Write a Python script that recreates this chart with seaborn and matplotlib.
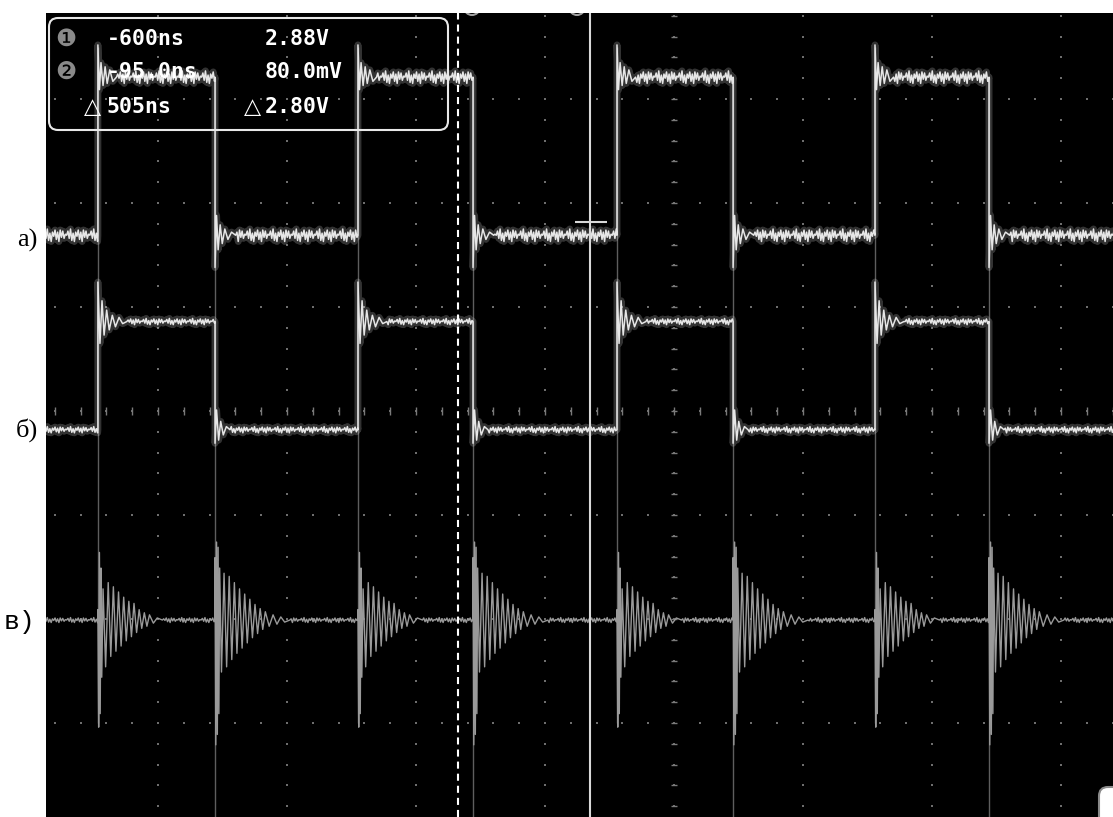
import numpy as np
import seaborn as sns
import matplotlib.pyplot as plt
from matplotlib.patches import FancyBboxPatch, Ellipse
from matplotlib.transforms import Affine2D

#* STEP 1: values (time in ns, amplitude in divisions)

# edge times of the square wave (same for all three traces)
RISE_NS = [-2233, -1225, -221, 779]
FALL_NS = [-1779, -779, 229, 1221]

# levels of the traces
A_LOW, A_HIGH = 1.69, 3.21
B_LOW, B_HIGH = -0.18, 0.86
C_BASE = -2.01

# ringing after each edge: time offset (ns) and deviation from the new level (div)
A_RISE_DT = [0, 6, 12, 20, 28, 36, 46, 58, 72]
A_RISE_DV = [0.31, -0.12, 0.14, -0.08, 0.10, -0.06, 0.07, -0.04, 0.0]
A_FALL_DT = [0, 6, 12, 20, 28, 38, 50, 64, 80]
A_FALL_DV = [-0.31, 0.19, -0.14, 0.10, -0.08, 0.06, -0.04, 0.03, 0.0]

B_RISE_DT = [0, 8, 16, 24, 34, 44, 56, 68, 82, 96, 112]
B_RISE_DV = [0.38, -0.21, 0.20, -0.13, 0.11, -0.08, 0.06, -0.05, 0.04, -0.02, 0.0]
B_FALL_DT = [0, 6, 14, 22, 32, 44, 58]
B_FALL_DV = [-0.13, 0.19, -0.10, 0.08, -0.05, 0.03, 0.0]

C_RISE_DT = [0, 3, 6, 9, 12, 15, 20, 30, 40, 50, 60, 70, 80, 90, 100, 110, 120,
             130, 140, 150, 160, 170, 180, 190, 200, 215, 230, 250]
C_RISE_DV = [0.10, -1.03, 0.65, -0.90, 0.50, -0.55, 0.30, -0.45, 0.36, -0.35, 0.32,
             -0.30, 0.27, -0.25, 0.22, -0.20, 0.18, -0.16, 0.16, -0.12, 0.10, -0.08,
             0.07, -0.06, 0.05, -0.03, 0.02, 0.0]
C_FALL_DT = [0, 3, 6, 9, 12, 15, 18, 25, 35, 45, 55, 65, 75, 85, 95, 105, 115, 125,
             135, 145, 155, 165, 175, 185, 195, 210, 225, 240, 255, 270, 290]
C_FALL_DV = [0.60, -1.20, 0.75, -1.10, 0.70, -0.90, 0.50, -0.50, 0.45, -0.45, 0.42,
             -0.38, 0.36, -0.32, 0.30, -0.27, 0.25, -0.22, 0.20, -0.17, 0.15, -0.13,
             0.11, -0.09, 0.08, -0.06, 0.05, -0.04, 0.03, -0.02, 0.0]

# grass on the flat parts of the traces (div), repeated along each level
NOISE = [0.00, 0.04, -0.03, 0.06, -0.05, 0.02, -0.06, 0.03, -0.01, 0.05, -0.04,
         0.03, -0.06, 0.05, -0.02, 0.04, -0.03, 0.01]

# cursors and readout
CURSOR_NS = [-837, -326]
READOUT_T = ['-600ns', '-95.0ns', '505ns']
READOUT_V = ['2.88V', '80.0mV', '2.80V']
LABELS = ['а)', 'б)', 'в)']

#* STEP 2: screen geometry (pixels of the screenshot)
W, H = 1113, 817
X0_PX, Y0_PX = 674, 411          # centre of the graticule
NS_PER_PX = 500 / 129            # 500 ns per division
PX_PER_DIV = 104
T_START = (46 - X0_PX) * NS_PER_PX
T_END = (W - X0_PX) * NS_PER_PX
STEP = 5


def build_trace(low, high, rise_dt, rise_dv, fall_dt, fall_dv, scale):
    events = sorted([(t, high, rise_dt, rise_dv) for t in RISE_NS] +
                    [(t, low, fall_dt, fall_dv) for t in FALL_NS])
    ts, vs = [], []
    level, cur, k = low, T_START - 10, 0
    for te, new_level, dts, dvs in events:
        while cur < te:
            ts.append(cur)
            vs.append(level + NOISE[k % len(NOISE)] * scale)
            cur += STEP
            k += 1
        ts.append(te)
        vs.append(level)
        for dt, dv in zip(dts, dvs):
            ts.append(te + dt)
            vs.append(new_level + dv)
        cur = te + dts[-1] + STEP
        level = new_level
    while cur < T_END + 10:
        ts.append(cur)
        vs.append(level + NOISE[k % len(NOISE)] * scale)
        cur += STEP
        k += 1
    return np.array(ts), np.array(vs)


trace_a = build_trace(A_LOW, A_HIGH, A_RISE_DT, A_RISE_DV, A_FALL_DT, A_FALL_DV, 1.0)
trace_b = build_trace(B_LOW, B_HIGH, B_RISE_DT, B_RISE_DV, B_FALL_DT, B_FALL_DV, 0.5)
trace_c = build_trace(C_BASE, C_BASE, C_RISE_DT, C_RISE_DV, C_FALL_DT, C_FALL_DV, 0.4)

#* STEP 3: figure

fig = plt.figure(figsize=(W / 100, H / 100), dpi=100, facecolor='white')
ax = fig.add_axes([46 / W, 0, 1 - 46 / W, (H - 13) / H])
ax.set_facecolor('black')
ax.set_xlim(T_START, T_END)
ax.set_ylim((Y0_PX - H) / PX_PER_DIV, (Y0_PX - 13) / PX_PER_DIV)
for s in ax.spines.values():
    s.set_visible(False)
ax.set_xticks([])
ax.set_yticks([])

# pixel transform for the screen overlays (x right, y down)
px = Affine2D().scale(1 / W, -1 / H).translate(0, 1) + fig.transFigure

# dotted graticule
dot_kw = dict(s=4, marker='s', color='#6e6e6e', linewidths=0, zorder=1)
col_y = np.arange(-4, 4.01, 0.2)
for k in range(-5, 6):
    ax.scatter(np.full(col_y.size, k * 500), col_y, **dot_kw)
row_x = np.arange(-2500, 2501, 100)
for j in range(-4, 5):
    ax.scatter(row_x, np.full(row_x.size, j), **dot_kw)
ax.vlines(row_x, -0.035, 0.035, color='#7a7a7a', lw=1, zorder=1)
ax.hlines(col_y, -13, 13, color='#7a7a7a', lw=1, zorder=1)

# persistence lines at the fast edges
ax.vlines(RISE_NS, -3.0, 3.5, color='#5e5e5e', lw=1, zorder=2)
ax.vlines(FALL_NS, -3.95, 3.2, color='#5e5e5e', lw=1, zorder=2)

# traces
sns.lineplot(x=trace_c[0], y=trace_c[1], ax=ax, color='#9a9a9a', lw=1.0,
             sort=False, estimator=None, zorder=3)
for tr in (trace_a, trace_b):
    sns.lineplot(x=tr[0], y=tr[1], ax=ax, color='white', lw=5, alpha=0.2,
                 sort=False, estimator=None, zorder=3)
    sns.lineplot(x=tr[0], y=tr[1], ax=ax, color='#e6e6e6', lw=1.1,
                 sort=False, estimator=None, zorder=4)

# cursors
ax.axvline(CURSOR_NS[0], color='white', lw=1.5, ls=(0, (3.4, 2.4)), zorder=5)
ax.axvline(CURSOR_NS[1], color='#d8d8d8', lw=1.5, zorder=5)
ax.hlines(1.82, CURSOR_NS[1] - 58, CURSOR_NS[1] + 66, color='#d8d8d8', lw=1.5, zorder=5)
for cx in (472, 577):
    ax.add_patch(Ellipse((cx, 8), 15, 14, transform=px, fc='none',
                         ec='#a0a0a0', lw=1.5, zorder=6))

# readout box
ax.add_patch(FancyBboxPatch((49, 18), 399, 112, boxstyle='round,pad=0,rounding_size=9',
                            transform=px, fc='none', ec='#e8e8e8', lw=1.5, zorder=6))
mono = ['DejaVu Sans Mono', 'DejaVu Sans']
rows_y = [39, 72, 107]
for i, y in enumerate(rows_y):
    ax.text(107, y, READOUT_T[i], transform=px, color='white', fontsize=15.5,
            family=mono, weight='bold', va='center', ha='left', zorder=7)
    ax.text(265, y, READOUT_V[i], transform=px, color='white', fontsize=15.5,
            family=mono, weight='bold', va='center', ha='left', zorder=7)
for i, y in enumerate(rows_y[:2]):
    ax.text(66, y, '❶❷'[i], transform=px, color='#8a8a8a', fontsize=17,
            family='DejaVu Sans', va='center', ha='center', zorder=7)
for x in (92, 252):
    ax.text(x, rows_y[2], '△', transform=px, color='white', fontsize=16,
            family='DejaVu Sans', va='center', ha='center', zorder=7)

# bottom-right corner widget
ax.add_patch(FancyBboxPatch((1099, 787), 40, 50, boxstyle='round,pad=0,rounding_size=9',
                            transform=px, fc='white', ec='#8a8a8a', lw=1.5, zorder=6))

# channel labels on the left
for lab, y, fam, xr in zip(LABELS, [240, 430, 622],
                           ['Liberation Serif', 'Liberation Serif', 'Liberation Mono'],
                           [38, 38, 35]):
    fig.text(xr, y, lab, transform=px, fontsize=19, family=fam, color='black',
             ha='right', va='center')

fig.savefig('out.png', dpi=100, facecolor='white')
